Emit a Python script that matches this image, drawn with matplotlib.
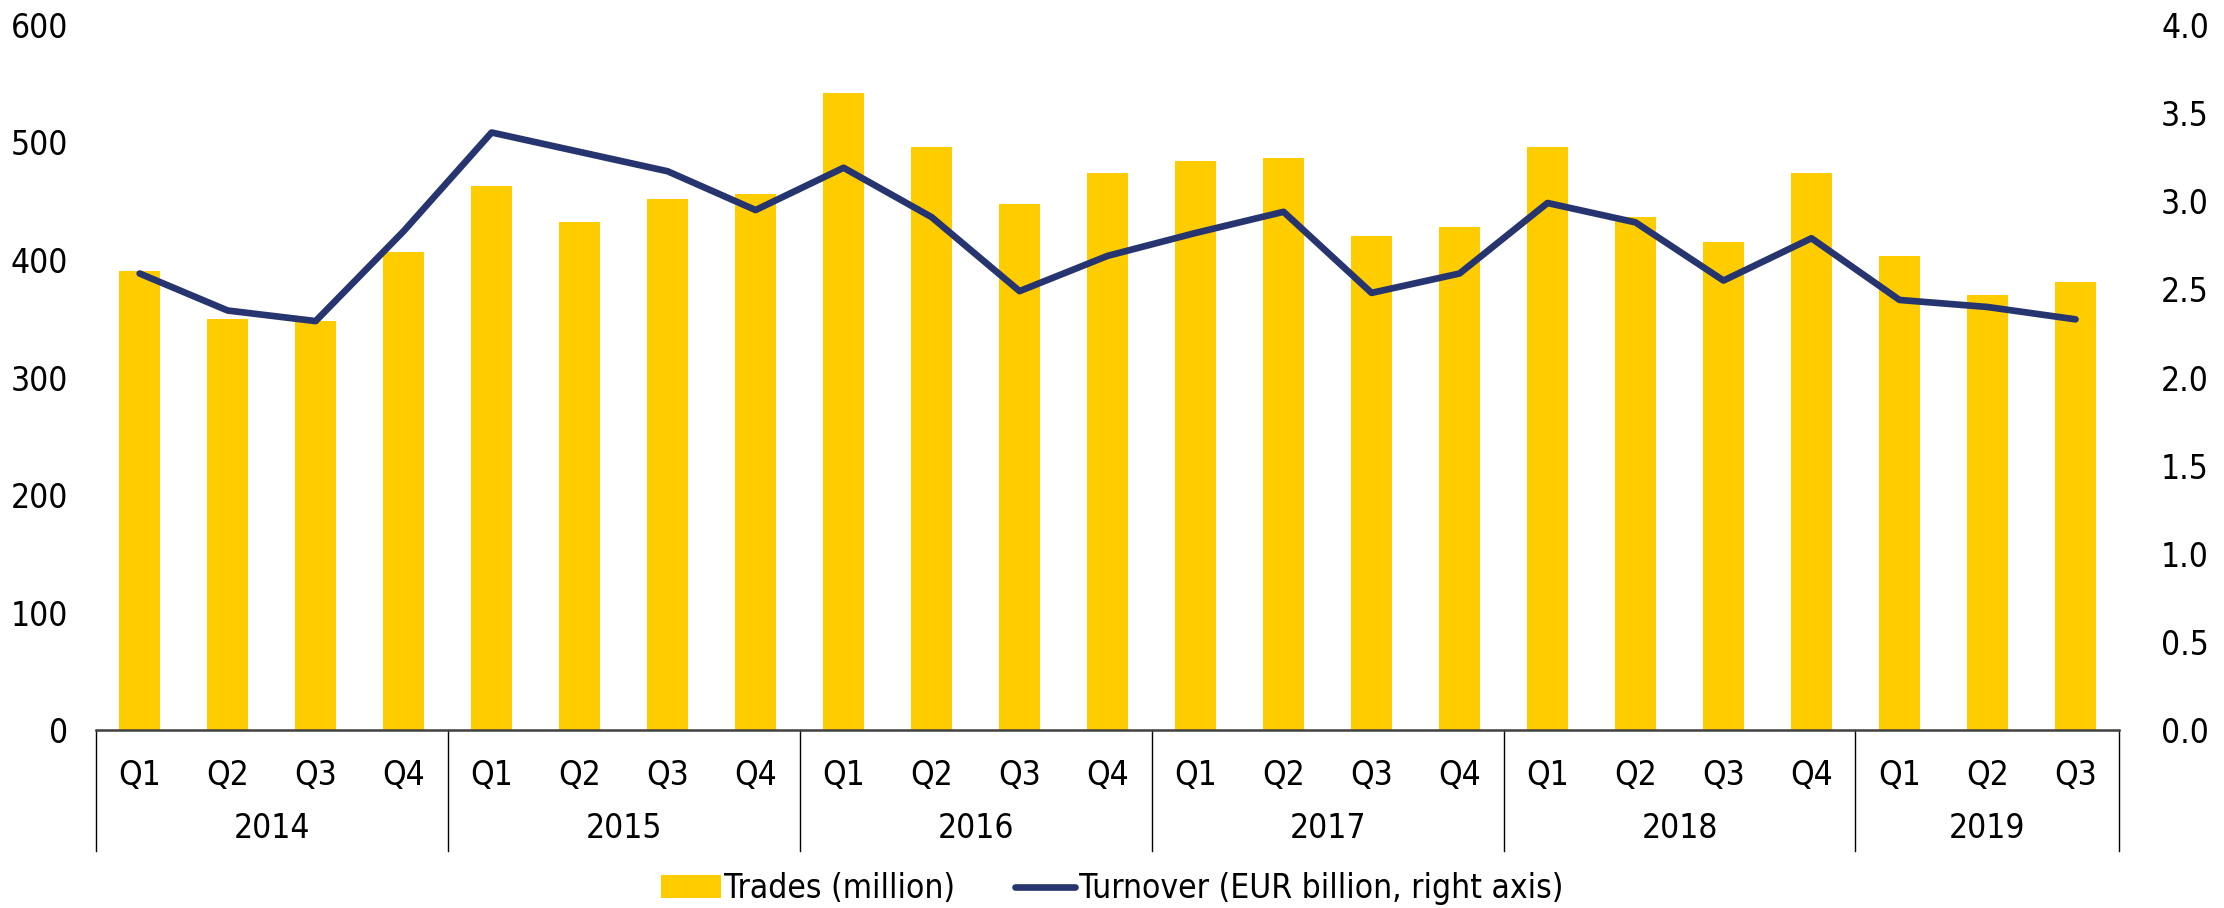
import matplotlib.pyplot as plt
import matplotlib.transforms as mtransforms
from matplotlib import font_manager

# data
years = ['2014', '2015', '2016', '2017', '2018', '2019']
quarters_per_year = [4, 4, 4, 4, 4, 3]
quarters = ['Q1', 'Q2', 'Q3', 'Q4'] * 5 + ['Q1', 'Q2', 'Q3']
trades = [391, 350, 348, 407, 463, 432, 452, 456, 542, 496, 448, 474,
          484, 487, 420, 428, 496, 437, 415, 474, 403, 370, 381]
turnover = [2.59, 2.38, 2.32, 2.83, 3.39, 3.28, 3.17, 2.95, 3.19, 2.91, 2.49, 2.69,
            2.82, 2.94, 2.48, 2.59, 2.99, 2.88, 2.55, 2.79, 2.44, 2.40, 2.33]

names = {f.name for f in font_manager.fontManager.ttflist}
stretches = {(f.name, f.stretch) for f in font_manager.fontManager.ttflist}
if 'Liberation Sans Narrow' in names:
    plt.rcParams['font.family'] = ['Liberation Sans Narrow', 'DejaVu Sans']
else:
    plt.rcParams['font.family'] = ['DejaVu Sans']
    if any(n == 'DejaVu Sans' and s == 'condensed' for n, s in stretches):
        plt.rcParams['font.stretch'] = 'condensed'
plt.rcParams['font.size'] = 24

fig = plt.figure(figsize=(22.24, 9.08), dpi=100)
ax = fig.add_axes([0.043, 0.196, 0.910, 0.7765])
ax2 = ax.twinx()

x = list(range(len(quarters)))
bars = ax.bar(x, trades, width=0.47, color='#FFCC00', label='Trades (million)', zorder=2)
line, = ax2.plot(x, turnover, color='#263570', lw=4.8, solid_capstyle='round',
                 label='Turnover (EUR billion, right axis)', zorder=3)

ax.set_xlim(-0.5, len(quarters) - 0.5)
ax.set_ylim(0, 600)
ax.set_yticks(range(0, 601, 100))
ax2.set_ylim(0, 4.0)
ax2.set_yticks([i * 0.5 for i in range(9)])
ax2.set_yticklabels([f'{i * 0.5:.1f}' for i in range(9)])

ax.set_xticks(x)
ax.set_xticklabels(quarters)
ax.tick_params(axis='x', length=0, pad=21)
ax.tick_params(axis='y', length=0, pad=20)
ax2.tick_params(axis='y', length=0, pad=30)

for a in (ax, ax2):
    for s in ('top', 'left', 'right'):
        a.spines[s].set_visible(False)
ax2.spines['bottom'].set_visible(False)
ax.spines['bottom'].set_color('#404040')
ax.spines['bottom'].set_linewidth(1.8)

# year groups below the quarter labels
trans = mtransforms.blended_transform_factory(ax.transData, ax.transAxes)
start = 0
for yr, n in zip(years, quarters_per_year):
    ax.text(start + (n - 1) / 2, -0.139, yr, transform=trans,
            ha='center', va='center')
    start += n
edges = [-0.5]
for n in quarters_per_year:
    edges.append(edges[-1] + n)
for e in edges:
    ax.plot([e, e], [0, -0.172], transform=trans, color='black', lw=1.0, clip_on=False)

fig.legend(handles=[bars, line], loc='center', bbox_to_anchor=(0.5, 0.021),
           ncol=2, frameon=False, handlelength=1.8, handletextpad=0.1,
           columnspacing=1.8)

fig.savefig('out.png', dpi=100)
